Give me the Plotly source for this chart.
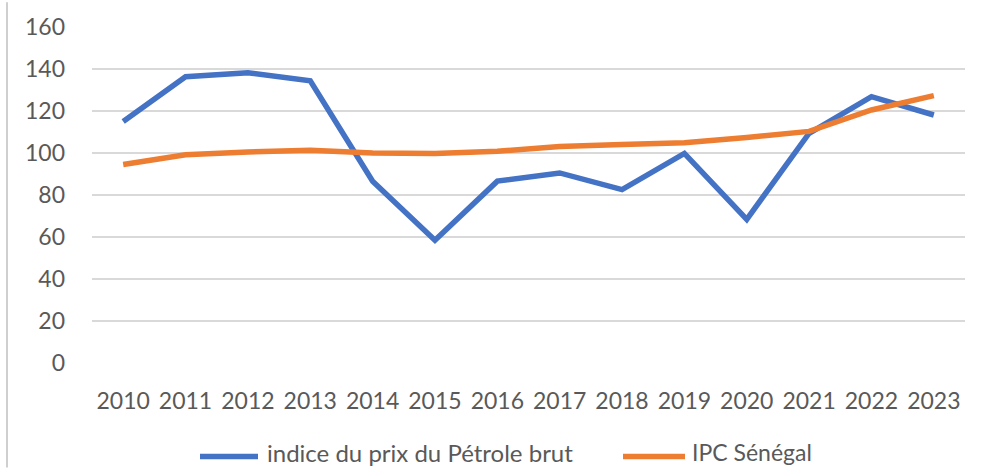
import plotly.graph_objects as go

years = ["2010", "2011", "2012", "2013", "2014", "2015", "2016",
         "2017", "2018", "2019", "2020", "2021", "2022", "2023"]
petrole = [115, 136.3, 138.2, 134.4, 86.6, 58.5, 86.6, 90.5, 82.6, 99.8, 68.4, 109.4, 126.8, 118.1]
ipc = [94.5, 99.2, 100.5, 101.3, 100.0, 99.8, 100.8, 103.1, 104.0, 104.9, 107.4, 110.3, 120.5, 127.3]
y_ticks = [0, 20, 40, 60, 80, 100, 120, 140, 160]
series_names = ["indice du prix du Pétrole brut", "IPC Sénégal"]
colors = ["#4472C4", "#ED7D31"]

font = "Lato, 'Open Sans', sans-serif"
L, R, T, B = 92, 19, 25, 105
W, H = 984, 468
pw, ph = W - L - R, H - T - B

def px_x(p):
    return (p - L) / pw

def px_y(p):
    return (H - B - p) / ph

fig = go.Figure()
for name, vals, c in zip(series_names, [petrole, ipc], colors):
    fig.add_trace(go.Scatter(x=years, y=vals, mode="lines", name=name, showlegend=False,
                             line=dict(color=c, width=5.5)))

fig.update_layout(
    width=W, height=H,
    margin=dict(l=L, r=R, t=T, b=B),
    paper_bgcolor="white", plot_bgcolor="white",
    font=dict(family=font, size=23, color="#595959"),
    showlegend=False,
    xaxis=dict(showgrid=False, showline=False, zeroline=False, ticks="",
               tickfont=dict(size=23), range=[-0.5, 13.5], ticklabelstandoff=22),
    yaxis=dict(range=[0, 160], tickvals=y_ticks, showgrid=True, gridcolor="#D9D9D9",
               gridwidth=1.5, zeroline=False, showline=False, ticks="", ticklabelstandoff=26,
               tickfont=dict(size=23)),
)
# left border of chart area
fig.add_shape(type="line", xref="paper", yref="paper", x0=px_x(7), x1=px_x(7),
              y0=px_y(468), y1=px_y(0), line=dict(color="#BFBFBF", width=1.5))
# manual legend
line_y = px_y(457)
text_y = px_y(453)
items = [(200, 258, 265), (623, 685, 690)]
sizes = [24, 23]
for (x0, x1, xt), name, c, s in zip(items, series_names, colors, sizes):
    fig.add_shape(type="line", xref="paper", yref="paper", x0=px_x(x0), x1=px_x(x1),
                  y0=line_y, y1=line_y, line=dict(color=c, width=5.5))
    fig.add_annotation(xref="paper", yref="paper", x=px_x(xt), y=text_y, text=name,
                       showarrow=False, xanchor="left", yanchor="middle",
                       font=dict(size=s, color="#595959"))
fig.write_html("out.html", config={"displayModeBar": False},
               post_script="document.body.style.margin='0px';")
